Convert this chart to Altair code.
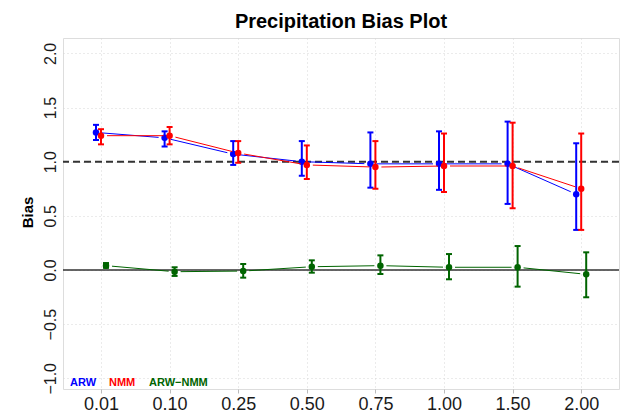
import altair as alt
import pandas as pd

# ---- data ----
thresholds = ["0.01", "0.10", "0.25", "0.50", "0.75", "1.00", "1.50", "2.00"]

arw_bias = [1.27, 1.22, 1.07, 1.00, 0.98, 0.98, 0.98, 0.70]
arw_lo = [1.20, 1.14, 0.97, 0.87, 0.76, 0.74, 0.61, 0.37]
arw_hi = [1.34, 1.28, 1.19, 1.19, 1.27, 1.28, 1.37, 1.17]

nmm_bias = [1.24, 1.24, 1.08, 0.97, 0.95, 0.96, 0.96, 0.75]
nmm_lo = [1.16, 1.16, 0.99, 0.84, 0.75, 0.72, 0.57, 0.37]
nmm_hi = [1.30, 1.32, 1.19, 1.15, 1.19, 1.26, 1.36, 1.26]

diff_bias = [0.04, -0.016, -0.01, 0.03, 0.04, 0.025, 0.025, -0.04]
diff_lo = [0.02, -0.055, -0.071, -0.025, -0.037, -0.086, -0.154, -0.252]
diff_hi = [0.064, 0.025, 0.055, 0.089, 0.135, 0.147, 0.221, 0.163]

series_names = ["ARW", "NMM", "ARW\u2212NMM"]
series_colors = ["#0000ff", "#ff0000", "#006400"]
ref_dashed = [1.0]
ref_solid = [0.0]
y_ticks = [-1.0, -0.5, 0.0, 0.5, 1.0, 1.5, 2.0]
title_text = ["Precipitation Bias Plot"]

FONT = "Liberation Sans"
W, H = 556, 351
X_DOM = [0.446, 8.551]
Y_DOM = [-1.099, 2.142]
GAP = 6  # px gap between line segments and points (R type="b")

x_scale = alt.Scale(domain=X_DOM, nice=False, zero=False)
y_scale = alt.Scale(domain=Y_DOM, nice=False, zero=False)

label_expr = "[" + ",".join("'%s'" % t for t in thresholds) + "][datum.value - 1]"

x_axis = alt.Axis(
    values=list(range(1, len(thresholds) + 1)),
    labelExpr=label_expr,
    title=None,
    domain=False,
    grid=True,
    gridColor="#d6d6d6",
    gridDash=[1, 3],
    gridWidth=1,
    ticks=True,
    tickSize=4,
    tickColor="#bbbbbb",
    labelFontSize=18,
    labelFont=FONT,
    labelColor="#1a1a1a",
    labelPadding=2,
)
y_axis = alt.Axis(
    values=y_ticks,
    format=".1f",
    title="Bias",
    titleFont=FONT,
    titleFontSize=15,
    titleFontWeight="bold",
    titleColor="#000000",
    titleAngle=270,
    titleX=-31,
    titleY=174,
    titleBaseline="alphabetic",
    titleAlign="center",
    domain=False,
    ticks=False,
    tickSize=0,
    grid=True,
    gridColor="#d6d6d6",
    gridDash=[1, 3],
    gridWidth=1,
    labelAngle=270,
    labelAlign="center",
    labelBaseline="alphabetic",
    labelPadding=8,
    labelFontSize=16,
    labelFont=FONT,
    labelColor="#1a1a1a",
)

def X(field):
    return alt.X(field, scale=x_scale, axis=x_axis)

def Y(field):
    return alt.Y(field, scale=y_scale, axis=y_axis)

def frame(vals, los, his, name):
    return pd.DataFrame({
        "idx": list(range(1, len(thresholds) + 1)),
        "threshold": thresholds,
        "bias": vals,
        "lo": los,
        "hi": his,
        "series": name,
    })

frames = [
    frame(arw_bias, arw_lo, arw_hi, series_names[0]),
    frame(nmm_bias, nmm_lo, nmm_hi, series_names[1]),
    frame(diff_bias, diff_lo, diff_hi, series_names[2]),
]
offsets = [-5, 0, 5]

kx = W / (X_DOM[1] - X_DOM[0])
ky = H / (Y_DOM[1] - Y_DOM[0])

ref1 = alt.Chart(pd.DataFrame({"v": ref_dashed})).mark_rule(
    color="#333333", strokeWidth=2, strokeDash=[7, 4]
).encode(y=Y("v:Q"))
ref0 = alt.Chart(pd.DataFrame({"v": ref_solid})).mark_rule(
    color="#333333", strokeWidth=1.6
).encode(y=Y("v:Q"))

layers = [ref1, ref0]
for df, color, off in zip(frames, series_colors, offsets):
    b = alt.Chart(df)
    # connecting segments with small gaps at the points (like R type="b")
    seg = b.transform_window(
        window=[
            alt.WindowFieldDef(op="lead", field="idx", **{"as": "nx"}),
            alt.WindowFieldDef(op="lead", field="bias", **{"as": "ny"}),
        ],
        sort=[alt.SortField("idx")],
        frame=[None, None],
    ).transform_filter("datum.nx != null").transform_calculate(
        plen=f"sqrt(pow((datum.nx - datum.idx) * {kx}, 2) + pow((datum.ny - datum.bias) * {ky}, 2))"
    ).transform_calculate(
        f=f"{GAP} / datum.plen"
    ).transform_calculate(
        x1="datum.idx + datum.f * (datum.nx - datum.idx)",
        x2="datum.nx - datum.f * (datum.nx - datum.idx)",
        y1="datum.bias + datum.f * (datum.ny - datum.bias)",
        y2="datum.ny - datum.f * (datum.ny - datum.bias)",
    ).mark_rule(color=color, strokeWidth=1, xOffset=off, x2Offset=off).encode(
        x=X("x1:Q"), x2="x2:Q", y=Y("y1:Q"), y2="y2:Q")
    layers.append(seg)
    layers.append(b.mark_rule(color=color, strokeWidth=2, xOffset=off).encode(
        x=X("idx:Q"), y=Y("lo:Q"), y2="hi:Q"))
    layers.append(b.mark_tick(color=color, orient="horizontal", size=6, thickness=2,
                              xOffset=off, opacity=1).encode(
        x=X("idx:Q"), y=Y("lo:Q")))
    layers.append(b.mark_tick(color=color, orient="horizontal", size=6, thickness=2,
                              xOffset=off, opacity=1).encode(
        x=X("idx:Q"), y=Y("hi:Q")))
    layers.append(b.mark_circle(color=color, size=42, opacity=1, xOffset=off).encode(
        x=X("idx:Q"), y=Y("bias:Q")))

legend_x = [7, 46, 86]
for name, color, lx in zip(series_names, series_colors, legend_x):
    layers.append(alt.Chart(pd.DataFrame({"label": [name]})).mark_text(
        color=color, font=FONT, fontSize=11, fontWeight="bold",
        align="left", baseline="alphabetic"
    ).encode(x=alt.value(lx), y=alt.value(348), text="label:N"))

layers.append(alt.Chart(pd.DataFrame({"label": title_text})).mark_text(
    color="#000000", font=FONT, fontSize=20, fontWeight="bold",
    align="center", baseline="alphabetic"
).encode(x=alt.value(278), y=alt.value(-10), text="label:N"))

chart = alt.layer(*layers).properties(
    width=W,
    height=H,
    autosize=alt.AutoSizeParams(type="none"),
    padding={"left": 63, "top": 38, "right": 4, "bottom": 21},
).configure_view(stroke="#cccccc", strokeWidth=1.5).configure(background="white")

chart.save("out.html", embed_options={"renderer": "svg", "actions": False})
